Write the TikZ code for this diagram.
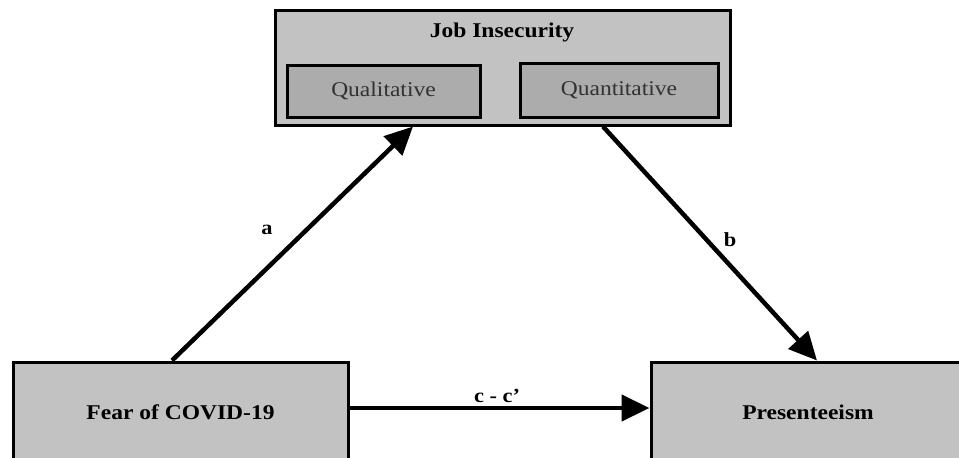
\documentclass[tikz,border=0pt]{standalone}
\usepackage{fontspec}
\setmainfont{Liberation Serif}[FakeStretch=1.12]
\usetikzlibrary{arrows.meta}
\definecolor{boxgray}{RGB}{194,194,194}
\definecolor{innergray}{RGB}{172,172,172}
\definecolor{innertext}{RGB}{50,50,50}
\begin{document}
\begin{tikzpicture}[x=1pt,y=-1pt,
  bigbox/.style={draw=black,line width=3pt,fill=boxgray,rectangle,inner sep=0pt,
     font=\fontsize{21}{24}\selectfont\bfseries},
  subbox/.style={draw=black,line width=3pt,fill=innergray,rectangle,inner sep=0pt,
     text=innertext,font=\fontsize{21}{24}\selectfont},
  pathlbl/.style={font=\fontsize{20}{22}\selectfont\bfseries,inner sep=0pt},
  conn/.style={line width=4.5pt,-{Triangle[length=28pt,width=26pt]}}]
\useasboundingbox[clip] (0,0) rectangle (959,458);
\node[bigbox,minimum width=455pt,minimum height=115pt] (job) at (502.5,67.5) {};
\node[font=\fontsize{21}{24}\selectfont\bfseries,inner sep=0pt] (jobt) at (502,32) {Job Insecurity};
\node[subbox,minimum width=193pt,minimum height=52pt] (qual) at (383.5,91) {Qualitative};
\node[subbox,minimum width=198pt,minimum height=54pt] (quant) at (619,90) {Quantitative};
\node[bigbox,minimum width=335pt,minimum height=104pt] (fear) at (180.5,414) {\raisebox{4pt}{Fear of COVID-19}};
\node[bigbox,minimum width=314pt,minimum height=104pt] (pres) at (808,414) {\raisebox{4pt}{Presenteeism}};
\draw[conn] ([xshift=-8.5pt]fear.north) -- ([xshift=-89.5pt]job.south);
\draw[conn] ([xshift=100.5pt]job.south) -- ([xshift=9pt]pres.north);
\draw[conn] ([yshift=6pt]fear.east) -- ([yshift=6pt]pres.west);
\node[pathlbl] (la) at (267,230) {a};
\node[pathlbl] (lb) at (730,240) {b};
\node[pathlbl] (lc) at (497,396) {c - c’};
\end{tikzpicture}
\end{document}
